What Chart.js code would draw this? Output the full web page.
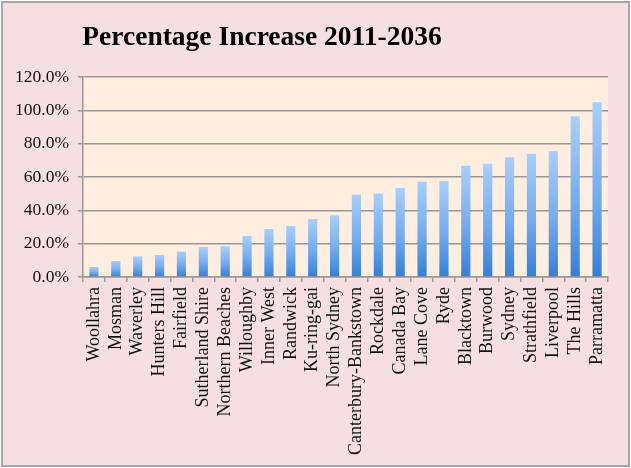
<!DOCTYPE html>
<html lang="en">
<head>
    <meta charset="UTF-8">
    <title>Percentage Increase 2011-2036</title>
    <script src="https://cdn.jsdelivr.net/npm/chart.js"></script>
    <style>
        body {
            margin: 0;
            background: #ffffff;
        }
        .chart-container {
            position: relative;
            width: 631px;
            height: 468px;
        }
    </style>
</head>
<body>
    <div class="chart-container">
        <canvas id="increaseChart"></canvas>
    </div>

    <script>
        // Data
        const areas = ["Woollahra", "Mosman", "Waverley", "Hunters Hill", "Fairfield", "Sutherland Shire",
            "Northern Beaches", "Willoughby", "Inner West", "Randwick", "Ku-ring-gai", "North Sydney",
            "Canterbury-Bankstown", "Rockdale", "Canada Bay", "Lane Cove", "Ryde", "Blacktown",
            "Burwood", "Sydney", "Strathfield", "Liverpool", "The Hills", "Parramatta"];
        const increase = [6.0, 9.6, 12.4, 13.2, 15.2, 18.0, 18.4, 24.6, 28.8, 30.6, 34.8, 37.0,
            49.4, 50.0, 53.4, 57.2, 57.6, 66.8, 68.0, 71.8, 74.0, 75.6, 96.4, 104.8];
        const yTicks = [0, 20, 40, 60, 80, 100, 120];
        const titleText = 'Percentage Increase 2011-2036';

        // pink slide background, border and cream plot area
        const backdrop = {
            id: 'backdrop',
            beforeDraw(chart) {
                const c = chart.ctx;
                const a = chart.chartArea;
                c.save();
                c.fillStyle = '#ffffff';
                c.fillRect(0, 0, chart.width, chart.height);
                c.fillStyle = '#f6dfe1';
                c.fillRect(2, 2, chart.width - 4, chart.height - 4);
                c.strokeStyle = '#a9a4a5';
                c.lineWidth = 2;
                c.strokeRect(2, 2, chart.width - 4, chart.height - 4);
                c.fillStyle = '#fdeedf';
                c.fillRect(a.left, a.top, a.right - a.left, a.bottom - a.top);
                c.restore();
            },
            afterDraw(chart) {
                const c = chart.ctx;
                c.save();
                c.fillStyle = '#000000';
                c.font = 'bold 27.5px "Liberation Serif"';
                c.textAlign = 'center';
                c.textBaseline = 'alphabetic';
                c.fillText(titleText, 262, 45);
                c.restore();
            }
        };

        const ctx = document.getElementById('increaseChart').getContext('2d');
        new Chart(ctx, {
            type: 'bar',
            data: {
                labels: areas,
                datasets: [{
                    label: 'Percentage Increase',
                    data: increase,
                    backgroundColor: function(context) {
                        const chart = context.chart;
                        if (!chart.chartArea) return '#6aa6ec';
                        const y = chart.scales.y;
                        const top = y.getPixelForValue(context.raw);
                        const bottom = y.getPixelForValue(0);
                        const g = chart.ctx.createLinearGradient(0, top, 0, bottom);
                        g.addColorStop(0, '#a8cffd');
                        g.addColorStop(0.55, '#72abef');
                        g.addColorStop(1, '#3280d8');
                        return g;
                    },
                    borderWidth: 0,
                    barPercentage: 0.42,
                    categoryPercentage: 1
                }]
            },
            options: {
                responsive: true,
                maintainAspectRatio: false,
                animation: false,
                layout: {
                    padding: { left: 0, right: 23, top: 77, bottom: 0 }
                },
                plugins: {
                    legend: { display: false },
                    title: { display: false },
                    tooltip: { enabled: false }
                },
                scales: {
                    x: {
                        afterFit: function(scale) { scale.height = 191; },
                        border: { color: '#9b9693', width: 1.5 },
                        grid: {
                            drawOnChartArea: false,
                            drawTicks: true,
                            tickLength: 5,
                            color: '#9b9693',
                            lineWidth: 1.5
                        },
                        ticks: {
                            autoSkip: false,
                            maxRotation: 90,
                            minRotation: 90,
                            padding: 5,
                            color: '#111111',
                            font: { family: '"Liberation Serif"', size: 18 }
                        }
                    },
                    y: {
                        min: 0,
                        max: 120,
                        afterFit: function(scale) { scale.width = 83; },
                        afterBuildTicks: function(scale) {
                            scale.ticks = yTicks.map(v => ({ value: v }));
                        },
                        border: { color: '#9b9693', width: 1.5 },
                        grid: {
                            color: '#9b9693',
                            lineWidth: 1.5,
                            tickLength: 5
                        },
                        ticks: {
                            padding: 9,
                            color: '#111111',
                            font: { family: '"Liberation Serif"', size: 17.5 },
                            callback: function(value) {
                                return value.toFixed(1) + '%';
                            }
                        }
                    }
                }
            },
            plugins: [backdrop]
        });
    </script>
</body>
</html>
